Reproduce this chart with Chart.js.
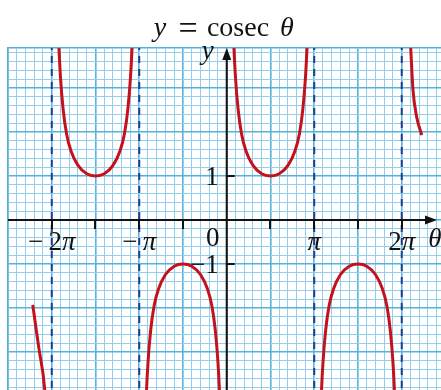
<!DOCTYPE html>
<html><head><meta charset="utf-8">
<script src="https://cdn.jsdelivr.net/npm/chart.js@4.4.0/dist/chart.umd.min.js"></script>
<style>html,body{margin:0;padding:0;background:#fff;overflow:hidden}#wrap{width:441px;height:390px;position:relative}</style>
</head><body><div id="wrap"><canvas id="c"></canvas></div>
<script>
// θ values are in multiples of π
const xTicksPi = [-2, -1.5, -1, -0.5, 0.5, 1, 1.5, 2];
const xLabelVals = [-2, -1, 1, 2];
const xLabelText = [['−\u2009',false,'2',false,'π',true], ['−\u2009',false,'π',true], ['π',true], ['2',false,'π',true]];
const yTickVals = [1, -1];
const yLabelText = ['1', '−1'];
const asymptotes = [-2, -1, 1, 2];

const thA = [-1.93,-1.92,-1.90,-1.87,-1.83,-1.78,-1.70,-1.60,-1.50,-1.40,-1.30,-1.22,-1.17,-1.13,-1.10,-1.08,-1.07];
const yA  = [4.59,4.02,3.24,2.52,1.95,1.57,1.24,1.05,1.00,1.05,1.24,1.57,1.95,2.52,3.24,4.02,4.59];
const thB = [-0.93,-0.92,-0.90,-0.87,-0.83,-0.78,-0.70,-0.60,-0.50,-0.40,-0.30,-0.22,-0.17,-0.13,-0.10,-0.08,-0.07];
const yB  = [-4.59,-4.02,-3.24,-2.52,-1.95,-1.57,-1.24,-1.05,-1.00,-1.05,-1.24,-1.57,-1.95,-2.52,-3.24,-4.02,-4.59];
const thC = [0.07,0.08,0.10,0.13,0.17,0.22,0.30,0.40,0.50,0.60,0.70,0.78,0.83,0.87,0.90,0.92,0.93];
const yC  = [4.59,4.02,3.24,2.52,1.95,1.57,1.24,1.05,1.00,1.05,1.24,1.57,1.95,2.52,3.24,4.02,4.59];
const thD = [1.07,1.08,1.10,1.13,1.17,1.22,1.30,1.40,1.50,1.60,1.70,1.78,1.83,1.87,1.90,1.92,1.93];
const yD  = [-4.59,-4.02,-3.24,-2.52,-1.95,-1.57,-1.24,-1.05,-1.00,-1.05,-1.24,-1.57,-1.95,-2.52,-3.24,-4.02,-4.59];
const thE = [2.09, 2.103, 2.129, 2.171, 2.229];
const yE  = [4.4, 3.9, 2.95, 2.34, 1.93];
const thF = [-2.217, -2.177, -2.149, -2.08, -2.07];
const yF  = [-1.93, -2.5, -2.89, -3.86, -4.2];

const RED = '#c4121c';
const NAVY = '#1d3f8e';
const FONT = '"Liberation Serif", "DejaVu Serif", serif';

function pts(xs, ys){ return xs.map((x,i)=>({x:x, y:ys[i]})); }
function curve(xs, ys){
  return {data: pts(xs, ys), borderColor: RED, borderWidth: 3, pointRadius: 0,
          cubicInterpolationMode: 'monotone', clip: 0, fill: false, order: 1};
}
const datasets = [];
asymptotes.forEach(a => datasets.push({data:[{x:a,y:-5},{x:a,y:5}], borderColor: NAVY, borderWidth: 2,
  borderDash:[7,6], pointRadius:0, clip:0, fill:false, order: 2}));
[[thA,yA],[thB,yB],[thC,yC],[thD,yD],[thE,yE],[thF,yF]].forEach(p => datasets.push(curve(p[0], p[1])));

function drawRich(ctx, parts, x, y, align, size){
  const segs = [];
  for (let i=0;i<parts.length;i+=2) segs.push([parts[i], parts[i+1]]);
  let w = 0;
  segs.forEach(s => { ctx.font = (s[1]?'italic ':'') + size + 'px ' + FONT; s.push(ctx.measureText(s[0]).width); w += s[2]; });
  let cx = align === 'center' ? x - w/2 : (align === 'right' ? x - w : x);
  ctx.textAlign = 'left'; ctx.textBaseline = 'alphabetic';
  segs.forEach(s => { ctx.font = (s[1]?'italic ':'') + size + 'px ' + FONT; ctx.fillText(s[0], cx, y); cx += s[2]; });
}

const overlay = {
  id: 'overlay',
  afterDatasetsDraw(chart){
    const ctx = chart.ctx, xs = chart.scales.x, ys = chart.scales.y, ca = chart.chartArea;
    const x0 = xs.getPixelForValue(0), y0 = ys.getPixelForValue(0);
    ctx.save();
    ctx.strokeStyle = '#111'; ctx.fillStyle = '#111'; ctx.lineWidth = 2;
    // x axis
    ctx.beginPath(); ctx.moveTo(ca.left, y0); ctx.lineTo(430, y0); ctx.stroke();
    ctx.beginPath(); ctx.moveTo(437, y0); ctx.lineTo(425, y0-4.5); ctx.lineTo(425, y0+4.5); ctx.closePath(); ctx.fill();
    // y axis
    ctx.beginPath(); ctx.moveTo(x0, ca.bottom); ctx.lineTo(x0, 56); ctx.stroke();
    ctx.beginPath(); ctx.moveTo(x0, 48); ctx.lineTo(x0-4.5, 60); ctx.lineTo(x0+4.5, 60); ctx.closePath(); ctx.fill();
    // ticks
    xTicksPi.forEach(v => { const px = Math.round(xs.getPixelForValue(v)); ctx.beginPath(); ctx.moveTo(px, y0); ctx.lineTo(px, y0+9); ctx.stroke(); });
    yTickVals.forEach(v => { const py = Math.round(ys.getPixelForValue(v)); ctx.beginPath(); ctx.moveTo(x0, py); ctx.lineTo(x0+8, py); ctx.stroke(); });
    // labels
    ctx.fillStyle = '#111';
    xLabelVals.forEach((v,i) => drawRich(ctx, xLabelText[i], xs.getPixelForValue(v), y0+30, 'center', 27));
    yTickVals.forEach((v,i) => drawRich(ctx, [yLabelText[i], false], x0-8, ys.getPixelForValue(v)+9, 'right', 27));
    drawRich(ctx, ['0', false], x0-14, y0+26, 'center', 27);
    drawRich(ctx, ['θ', true], 435, y0+27, 'center', 27);
    drawRich(ctx, ['y', true], x0-19, 59, 'center', 27);
    // title pieces
    drawRich(ctx, ['y', true], 160, 36, 'center', 28);
    drawRich(ctx, ['=', false], 188, 39, 'center', 34);
    drawRich(ctx, ['cosec', false], 238, 36, 'center', 28);
    drawRich(ctx, ['θ', true], 287, 36, 'center', 28);
    ctx.restore();
  }
};

const isMajorX = v => Math.abs(v*2 - Math.round(v*2)) < 1e-6;
const isMajorY = v => Math.abs(v - Math.round(v)) < 1e-6;
const MINOR = '#93cfeb', MAJOR = '#56b1dc';

new Chart(document.getElementById('c'), {
  type: 'line',
  data: { datasets },
  options: {
    responsive: true, maintainAspectRatio: false, animation: false, devicePixelRatio: 1,
    layout: { padding: { top: 48, left: 8, right: 0, bottom: 0 } },
    plugins: { legend: { display: false }, tooltip: { enabled: false }, title: { display: false } },
    events: [],
    scales: {
      x: { type: 'linear', position: 'top', min: -2.5, max: 2.449,
           ticks: { display: false, stepSize: 0.1, autoSkip: false, includeBounds: false },
           grid: { drawTicks: false, color: c => isMajorX(c.tick.value) ? MAJOR : MINOR,
                   lineWidth: c => isMajorX(c.tick.value) ? 1.6 : 1 },
           border: { display: true, color: MAJOR, width: 1.5 } },
      y: { type: 'linear', min: -3.864, max: 3.909,
           ticks: { display: false, stepSize: 0.2, autoSkip: false, includeBounds: false },
           grid: { drawTicks: false, color: c => isMajorY(c.tick.value) ? MAJOR : MINOR,
                   lineWidth: c => isMajorY(c.tick.value) ? 1.6 : 1 },
           border: { display: true, color: MAJOR, width: 1.5 } }
    }
  },
  plugins: [overlay]
});
</script></body></html>
